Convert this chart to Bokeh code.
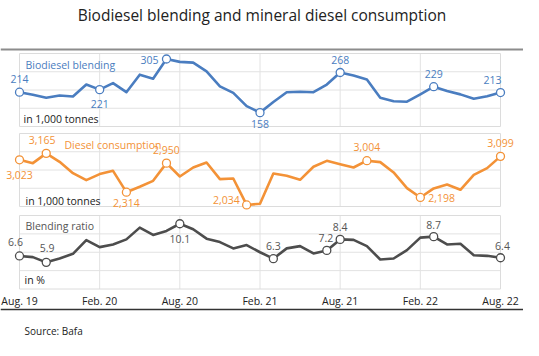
from bokeh.plotting import figure
from bokeh.models import Range1d, Label, Span, ColumnDataSource
from bokeh.core.properties import value
from bokeh.embed import file_html
from bokeh.resources import INLINE

# ---------------- data ----------------
months = list(range(37))  # Aug 2019 .. Aug 2022
tick_months = [0, 6, 12, 18, 24, 30, 36]
tick_labels = ["Aug. 19", "Feb. 20", "Aug. 20", "Feb. 21", "Aug. 21", "Feb. 22", "Aug. 22"]

biodiesel = [214, 207, 199, 205, 202, 235, 221, 239, 214, 262, 251, 305, 297, 295, 271, 230,
             212, 176, 158, 187, 214, 215, 214, 235, 268, 260, 249, 199, 189, 188, 208, 229,
             217, 208, 196, 203, 213]
diesel = [3023, 2950, 3165, 2980, 2731, 2578, 2710, 2782, 2314, 2432, 2563, 2950, 2658, 2855,
          2965, 2600, 2614, 2034, 2060, 2724, 2673, 2585, 2870, 3001, 2928, 2855, 3004, 2972,
          2746, 2403, 2198, 2396, 2483, 2366, 2695, 2841, 3099]
ratio = [6.6, 6.47, 5.9, 6.32, 6.83, 8.33, 7.56, 7.85, 8.4, 9.68, 8.88, 9.32, 10.1, 9.5, 8.48,
         8.11, 7.42, 7.78, 7.0, 6.3, 7.42, 7.67, 6.87, 7.2, 8.4, 8.35, 7.67, 6.21, 6.32, 7.23,
         8.59, 8.7, 7.85, 7.93, 6.68, 6.61, 6.4]

biodiesel_marked = [0, 6, 11, 18, 24, 31, 36]
diesel_marked = [0, 2, 8, 11, 17, 26, 30, 36]
ratio_marked = [0, 2, 12, 19, 23, 24, 31, 36]

biodiesel_axis = (120, 320)
biodiesel_grid = [170, 220, 270]
diesel_axis = (2000, 3600)
diesel_grid = [2400, 2800, 3200]
ratio_axis = (3, 11)
ratio_grid = [5, 7, 9]

# ---------------- layout / style ----------------
W, H = 523, 340
PX = 481 / 36.0
X0 = 19
FONT_NAME = "Open Sans"
FONT = value(FONT_NAME)
BLUE = "#4a7dc0"
ORANGE = "#f39237"
GREY = "#4d4d4d"
GRID = "#e2e2e2"

p = figure(width=W, height=H, output_backend="svg", toolbar_location=None, title=None,
           x_range=Range1d(-X0 / PX, (W - X0) / PX), y_range=Range1d(H, 0),
           x_axis_type=None, y_axis_type=None, min_border=0,
           min_border_left=0, min_border_right=0, min_border_top=0, min_border_bottom=0,
           outline_line_color=None, background_fill_color="white")


def panel_range(lo, hi, top, bottom):
    u = (hi - lo) / float(bottom - top)
    return Range1d(start=lo - (H - bottom) * u, end=hi + top * u)


p.extra_y_ranges = {
    "bio": panel_range(*biodiesel_axis, 53, 126),
    "die": panel_range(*diesel_axis, 133, 206),
    "rat": panel_range(*ratio_axis, 215, 288.5),
}

# label placement (pixels): dx, dy (down positive), alignment
bio_place = [(0, -13, "center"), (0, 14, "center"), (-8, 1, "right"), (0, 11, "center"),
             (0, -12, "center"), (0, -13, "center"), (-8, -13, "center")]
die_place = [(0, 15, "center"), (-4, -13, "center"), (0, 11, "center"), (0, -13, "center"),
             (-7, -5, "right"), (0, -14, "center"), (8, 1, "left"), (0, -13, "center")]
rat_place = [(-4, -14, "center"), (1, -14, "center"), (0, 15, "center"), (0, -13, "center"),
             (-1, -12, "center"), (0, -12, "center"), (0, -12, "center"), (2, -12, "center")]

panels = [
    ("bio", biodiesel, biodiesel_axis, biodiesel_grid, biodiesel_marked, bio_place, BLUE, BLUE,
     lambda v: f"{v:,.0f}"),
    ("die", diesel, diesel_axis, diesel_grid, diesel_marked, die_place, ORANGE, ORANGE,
     lambda v: f"{v:,.0f}"),
    ("rat", ratio, ratio_axis, ratio_grid, ratio_marked, rat_place, GREY, "#555555",
     lambda v: f"{v:.1f}"),
]

inner_ticks = tick_months[1:-1]
for name, ys, (lo, hi), grid, marked, place, color, tcolor, fmt in panels:
    # horizontal grid lines
    p.segment(x0=[months[0]] * len(grid), x1=[months[-1]] * len(grid), y0=grid, y1=grid,
              line_color=GRID, line_width=1, y_range_name=name)
    # vertical grid lines
    p.segment(x0=inner_ticks, x1=inner_ticks, y0=[lo] * len(inner_ticks), y1=[hi] * len(inner_ticks),
              line_color=GRID, line_width=1, y_range_name=name)
    # panel border
    p.quad(left=[months[0]], right=[months[-1]], bottom=[lo], top=[hi], fill_color=None,
           line_color="#dcdcdc", line_width=1, y_range_name=name)
    # series
    p.line(months, ys, line_color=color, line_width=2.6, line_join="round", y_range_name=name)
    src = ColumnDataSource(dict(
        x=[months[i] for i in marked],
        y=[ys[i] for i in marked],
        text=[fmt(ys[i]) for i in marked],
        dx=[d[0] for d in place],
        dy=[d[1] for d in place],
        align=[d[2] for d in place],
    ))
    p.scatter("x", "y", source=src, size=8, fill_color="white", line_color=color,
              line_width=1.3, y_range_name=name)
    p.text("x", "y", text="text", source=src, x_offset="dx", y_offset="dy", text_align="align",
           text_baseline="middle", text_font=FONT, text_font_size="10.5px", text_color=tcolor,
           y_range_name=name)

# x tick labels
p.text(x=tick_months, y=[300] * len(tick_months), text=tick_labels, text_align="center",
       text_baseline="middle", text_font=FONT, text_font_size="10.5px", text_color="#222222")

# horizontal rules
p.add_layout(Span(location=49, dimension="width", line_color="#8c8c8c", line_width=2))
p.add_layout(Span(location=309, dimension="width", line_color="#333333", line_width=1.5))


def lab(x, y, text, color="#222222", size="10.5px", align="left"):
    p.add_layout(Label(x=x, y=y, x_units="screen", y_units="data", text=text,
                       text_font=FONT_NAME, text_font_size=size, text_color=color,
                       text_align=align, text_baseline="middle"))


lab(W / 2.0, 14, "Biodiesel blending and mineral diesel consumption", size="15.5px", align="center")
lab(25, 64, "Biodiesel blending", BLUE)
lab(64, 144, "Diesel consumption", ORANGE)
lab(25, 225, "Blending ratio", "#555555")
lab(23, 118, "in 1,000 tonnes")
lab(25, 200, "in 1,000 tonnes")
lab(24, 279, "in %")
lab(24, 330, "Source: Bafa", size="10px")

open("out.html", "w").write(file_html(p, INLINE))
